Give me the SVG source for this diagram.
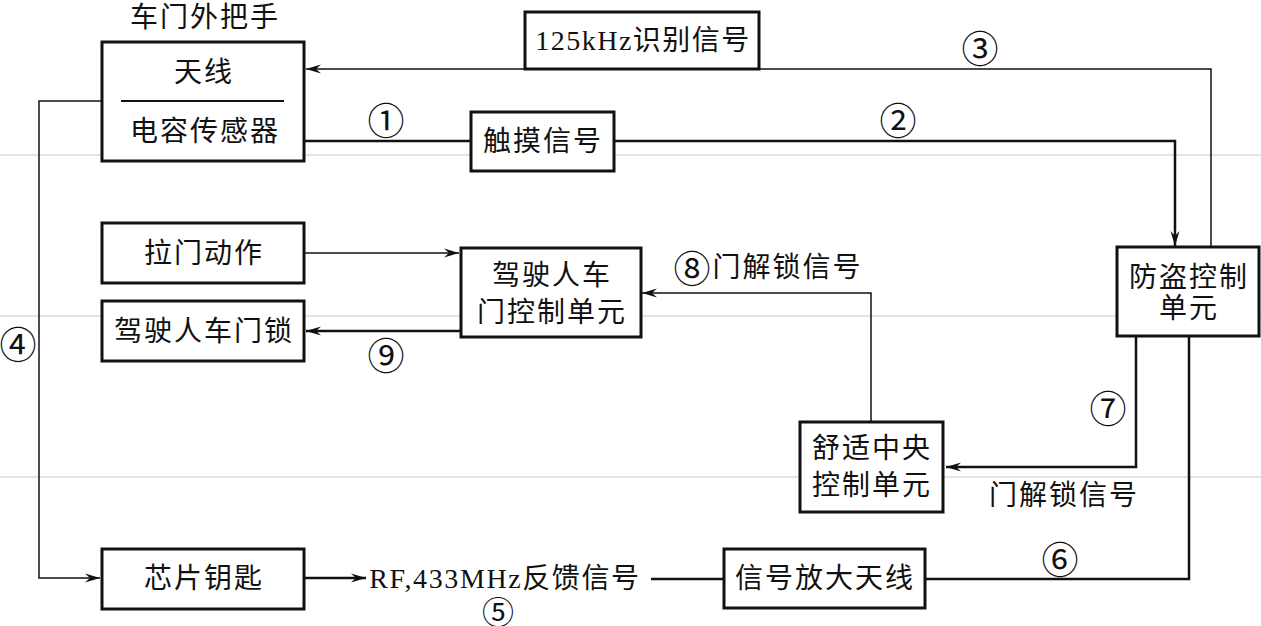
<svg xmlns="http://www.w3.org/2000/svg" width="1261" height="626" viewBox="0 0 1261 626">
<style>
.box{fill:#fff;stroke:#111;stroke-width:3}
.t{font-family:"Liberation Serif","Noto Sans CJK SC",serif;font-size:28px;fill:#111;text-anchor:middle;dominant-baseline:central;letter-spacing:2px}
.n{font-family:"Noto Sans CJK SC","Liberation Serif",serif;font-size:37px;fill:#111;text-anchor:middle;dominant-baseline:central}
.thin{fill:none;stroke:#111;stroke-width:1.5}
.thick{fill:none;stroke:#111;stroke-width:2.5}
.bg{stroke:#c8c8c8;stroke-width:1}
</style>
<defs>
<marker id="arr" markerUnits="userSpaceOnUse" markerWidth="20" markerHeight="12" refX="0" refY="0" viewBox="-16 -6 20 12" orient="auto" overflow="visible">
<path d="M-15,-4.5 L0,0 L-15,4.5 L-10,0 Z" fill="#111"/>
</marker>
</defs>
<rect width="1261" height="626" fill="#fff"/>
<g id="scanlines">
<line class="bg" x1="0" y1="155" x2="1261" y2="155"/>
<line class="bg" x1="0" y1="316" x2="1261" y2="316"/>
<line class="bg" x1="0" y1="477" x2="1261" y2="477"/>
</g>
<g id="connectors">
<path class="thin" d="M1211,247 V69 H306" marker-end="url(#arr)"/>
<path class="thick" d="M304,141 H471"/>
<path class="thick" d="M614,141 H1175 V246" marker-end="url(#arr)"/>
<path class="thin" d="M101,101 H39 V578 H100" marker-end="url(#arr)"/>
<path class="thick" d="M304,578 H366" marker-end="url(#arr)"/>
<path class="thick" d="M651,579 H724"/>
<path class="thick" d="M925,579 H1189 V336"/>
<path class="thick" d="M1136,336 V467 H946" marker-end="url(#arr)"/>
<path class="thin" d="M871,422 V293 H642" marker-end="url(#arr)"/>
<path class="thin" d="M304,253 H459" marker-end="url(#arr)"/>
<path class="thick" d="M461,331 H306" marker-end="url(#arr)"/>
</g>
<g id="labels">
<text class="t" x="205" y="17">车门外把手</text>
<text class="n" x="980" y="47">③</text>
<text class="n" x="898" y="119">②</text>
<text class="n" x="386" y="119">①</text>
<text class="n" x="18" y="343">④</text>
<text class="n" x="386" y="354">⑨</text>
<text class="n" x="1108" y="407">⑦</text>
<text class="n" x="1060" y="558">⑥</text>
<text class="n" x="498" y="610" style="font-size:32px">⑤</text>
<text class="t" x="768" y="267"><tspan style="font-family:'Noto Sans CJK SC',serif;font-size:37px">⑧</tspan>门解锁信号</text>
<text class="t" x="1064" y="495">门解锁信号</text>
<text class="t" x="505" y="578" style="letter-spacing:1.6px">RF,433MHz反馈信号</text>
</g>
<g id="door-handle">
<rect class="box" x="102" y="42" width="202" height="119"/>
<line x1="121" y1="101" x2="284" y2="101" stroke="#111" stroke-width="2"/>
<text class="t" x="204" y="72">天线</text>
<text class="t" x="205" y="131">电容传感器</text>
</g>
<g id="sig125">
<rect class="box" x="525" y="12" width="234" height="57"/>
<text class="t" x="643" y="40" style="letter-spacing:1.5px">125kHz识别信号</text>
</g>
<g id="touch">
<rect class="box" x="471" y="112" width="143" height="59"/>
<text class="t" x="543" y="141">触摸信号</text>
</g>
<g id="antitheft">
<rect class="box" x="1117" y="247" width="142" height="89"/>
<text class="t" x="1189" y="277">防盗控制</text>
<text class="t" x="1189" y="308">单元</text>
</g>
<g id="pull">
<rect class="box" x="102" y="223" width="202" height="60"/>
<text class="t" x="204" y="253">拉门动作</text>
</g>
<g id="driver-ctrl">
<rect class="box" x="461" y="248" width="180" height="89"/>
<text class="t" x="552" y="275">驾驶人车</text>
<text class="t" x="552" y="312">门控制单元</text>
</g>
<g id="driver-lock">
<rect class="box" x="102" y="301" width="202" height="60"/>
<text class="t" x="204" y="331">驾驶人车门锁</text>
</g>
<g id="comfort">
<rect class="box" x="800" y="422" width="143" height="90"/>
<text class="t" x="872" y="448">舒适中央</text>
<text class="t" x="872" y="485">控制单元</text>
</g>
<g id="chipkey">
<rect class="box" x="102" y="549" width="202" height="60"/>
<text class="t" x="204" y="578">芯片钥匙</text>
</g>
<g id="amp">
<rect class="box" x="724" y="549" width="201" height="59"/>
<text class="t" x="825" y="578">信号放大天线</text>
</g>
</svg>
